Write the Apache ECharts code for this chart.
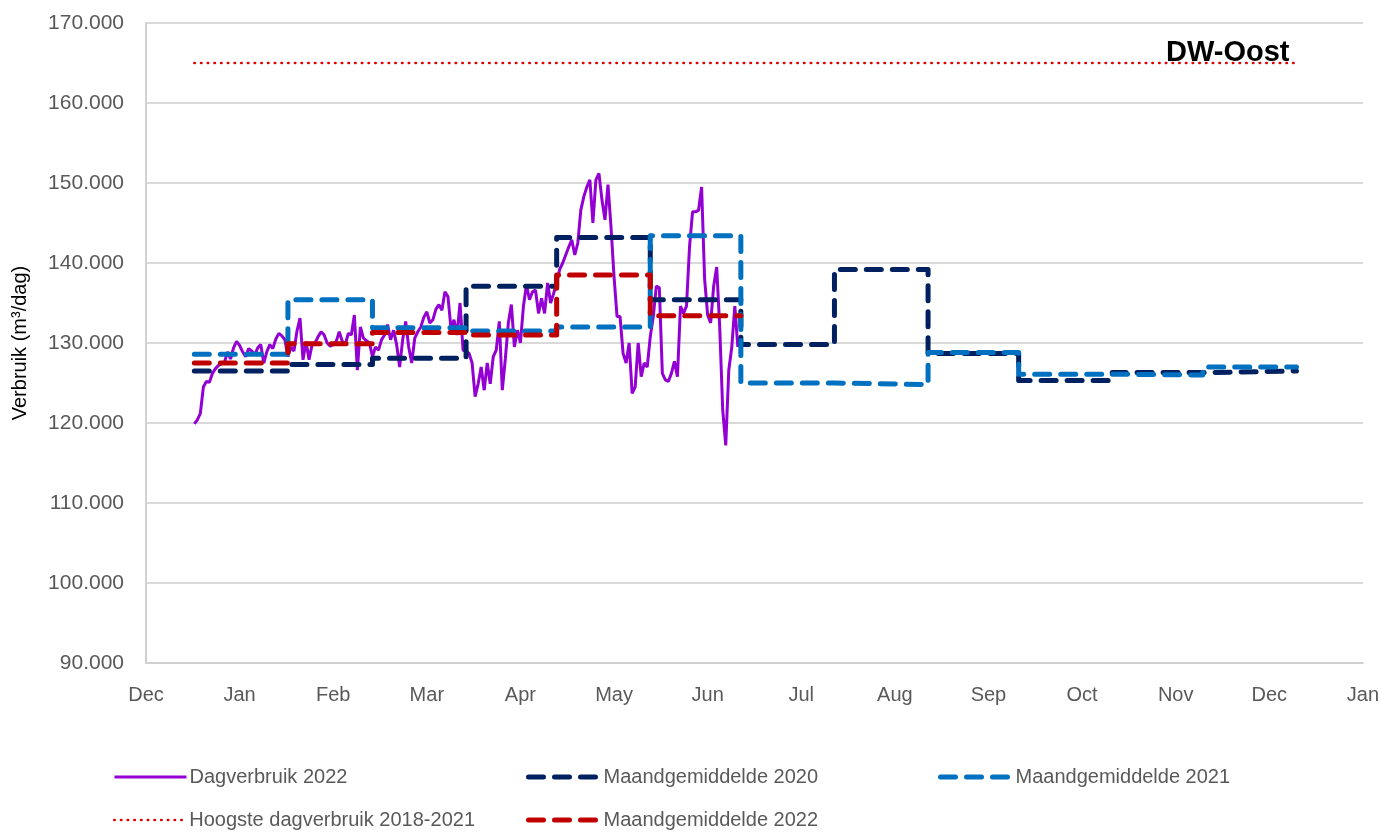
<!DOCTYPE html>
<html>
<head>
<meta charset="utf-8">
<script src="https://cdn.jsdelivr.net/npm/echarts@6/dist/echarts.min.js"></script>
<style>
html,body{margin:0;padding:0;background:#fff;}
#chart{width:1382px;height:832px;}
</style>
</head>
<body>
<div id="chart"></div>
<script>
// ---- data (values in thousands of m3/dag) ----
const tickLabels = ['Dec','Jan','Feb','Mar','Apr','May','Jun','Jul','Aug','Sep','Oct','Nov','Dec','Jan'];
const yTicks = [90,100,110,120,130,140,150,160,170];

// Dagverbruik 2022, one value per day starting 1 Jan 2022
const dagverbruik2022 = [
 119.9,120.4,121.2,124.5,125.2,125.1,126.2,126.8,127.2,127.4,
 127.6,128.9,128.0,129.4,130.2,129.7,128.9,128.3,129.3,129.0,
 128.5,129.4,129.8,127.5,128.9,129.8,129.3,130.5,131.2,130.9,
 130.4,128.3,129.5,129.0,131.5,133.1,127.9,130.2,127.9,129.8,
 130.0,130.8,131.4,131.0,130.0,129.6,129.8,130.2,131.4,130.2,
 129.8,131.2,131.0,133.5,126.6,132.0,130.6,130.3,130.0,128.3,
 129.5,129.1,130.4,131.0,132.3,130.4,131.6,129.8,127.0,130.4,
 132.7,129.5,127.5,130.6,131.4,132.0,133.2,133.9,132.5,132.9,
 134.2,134.8,134.1,136.4,135.8,131.8,132.9,131.0,135.0,129.1,
 129.0,128.7,127.5,123.3,124.9,127.0,124.1,127.5,124.9,128.3,
 129.1,132.7,124.1,128.0,132.5,134.8,129.5,131.6,130.0,134.6,
 137.3,135.4,136.4,136.6,133.7,135.6,133.7,137.5,135.0,136.2,
 137.5,139.2,140.0,141.0,142.0,142.9,141.0,142.5,146.6,148.3,
 149.5,150.4,145.0,150.4,151.2,147.9,145.4,149.8,144.5,138.3,
 133.3,133.3,128.7,127.5,130.0,123.7,124.5,130.0,125.8,127.5,
 127.0,130.8,133.3,137.1,136.9,126.2,125.4,125.2,126.2,127.7,
 125.8,134.6,133.7,134.6,142.0,146.4,146.4,146.6,149.5,138.0,
 133.5,132.5,137.1,139.5,132.0,121.6,117.2,126.6,129.5,134.6,
 129.5
];

// monthly averages, Jan..Dec
const maand2020 = [126.5,127.3,128.1,137.1,143.2,135.4,129.8,139.2,128.7,125.3,126.3,126.5];
const maand2021 = [128.6,135.4,131.9,131.5,132.0,143.4,125.0,124.8,128.8,126.1,126.0,127.0];
const maand2022 = [127.5,129.9,131.3,131.0,138.5,133.4];
const hoogste = 165.0;

// ---- helpers: x position in days since the axis start date ----
const AXIS_START = Date.UTC(2021, 11, 16);
const DAY = 86400000;
function dayPos(y, m, d) { return (Date.UTC(y, m, d) - AXIS_START) / DAY; }
function stepData(arr) {
  const pts = arr.map((v, m) => [dayPos(2022, m, 1), v]);
  pts.push([dayPos(2022, arr.length, 1), arr[arr.length - 1]]);
  return pts;
}

const FONT = "'Liberation Sans', Arial, sans-serif";
const chart = echarts.init(document.getElementById('chart'), null, {renderer: 'canvas'});
const dash = {width: 5, type: [15, 11], cap: 'round', join: 'round'};
const dotted = {width: 2.5, type: [0.5, 6.2], cap: 'round'};

function legendItem(name, left, top, lineStyle) {
  return {
    data: [name], left: left, top: top,
    itemWidth: 72, itemHeight: 14, itemGap: 4,
    itemStyle: {opacity: 0},
    lineStyle: lineStyle,
    textStyle: {color: '#595959', fontFamily: FONT, fontSize: 20, padding: [0, 0, 0, -2]}
  };
}

chart.setOption({
  animation: false,
  backgroundColor: '#ffffff',
  grid: {left: 146, right: 19, top: 23, bottom: 169, containLabel: false},
  xAxis: {
    type: 'value', min: 0, max: 403, interval: 31,
    axisLine: {show: true, lineStyle: {color: '#d0d0d0', width: 2}},
    axisTick: {show: false},
    splitLine: {show: false},
    axisLabel: {
      color: '#595959', fontFamily: FONT, fontSize: 20, margin: 22,
      formatter: v => tickLabels[Math.round(v / 31)] || ''
    }
  },
  yAxis: {
    type: 'value', min: yTicks[0], max: yTicks[yTicks.length - 1], interval: 10,
    name: 'Verbruik (m³/dag)', nameLocation: 'middle', nameGap: 116,
    nameTextStyle: {color: '#000', fontFamily: FONT, fontSize: 20},
    axisLine: {show: true, lineStyle: {color: '#d0d0d0', width: 2}},
    axisTick: {show: false},
    splitLine: {show: true, lineStyle: {color: '#d9d9d9', width: 2}},
    axisLabel: {
      color: '#595959', fontFamily: FONT, fontSize: 21, margin: 22,
      formatter: v => v + '.000'
    }
  },
  legend: [
    legendItem('Dagverbruik 2022', 108, 762, {width: 3, type: 'solid'}),
    legendItem('Maandgemiddelde 2020', 521, 762, dash),
    legendItem('Maandgemiddelde 2021', 933, 762, dash),
    legendItem('Hoogste dagverbruik 2018-2021', 108, 805, dotted),
    legendItem('Maandgemiddelde 2022', 521, 805, dash)
  ],
  graphic: [{
    type: 'text', left: 1166, top: 38, z: 100,
    style: {text: 'DW-Oost', font: "bold 29px 'Liberation Sans', Arial, sans-serif", fill: '#000'}
  }],
  series: [
    {
      name: 'Dagverbruik 2022', type: 'line', showSymbol: false, symbol: 'none',
      data: dagverbruik2022.map((v, i) => [dayPos(2022, 0, 1 + i), v]),
      lineStyle: {color: '#9400d3', width: 3}, itemStyle: {color: '#9400d3'}, z: 2
    },
    {
      name: 'Maandgemiddelde 2020', type: 'line', step: 'end', showSymbol: false, symbol: 'none',
      data: stepData(maand2020),
      lineStyle: Object.assign({color: '#002060'}, dash), itemStyle: {color: '#002060'}, z: 3
    },
    {
      name: 'Maandgemiddelde 2021', type: 'line', step: 'end', showSymbol: false, symbol: 'none',
      data: stepData(maand2021),
      lineStyle: Object.assign({color: '#0070c0'}, dash), itemStyle: {color: '#0070c0'}, z: 4
    },
    {
      name: 'Hoogste dagverbruik 2018-2021', type: 'line', showSymbol: false, symbol: 'none',
      data: [[dayPos(2022, 0, 1), hoogste], [dayPos(2023, 0, 1), hoogste]],
      lineStyle: Object.assign({color: '#e00000'}, dotted),
      itemStyle: {color: '#e00000'}, z: 5
    },
    {
      name: 'Maandgemiddelde 2022', type: 'line', step: 'end', showSymbol: false, symbol: 'none',
      data: stepData(maand2022),
      lineStyle: Object.assign({color: '#c00000'}, dash), itemStyle: {color: '#c00000'}, z: 6
    }
  ]
});
</script>
</body>
</html>
